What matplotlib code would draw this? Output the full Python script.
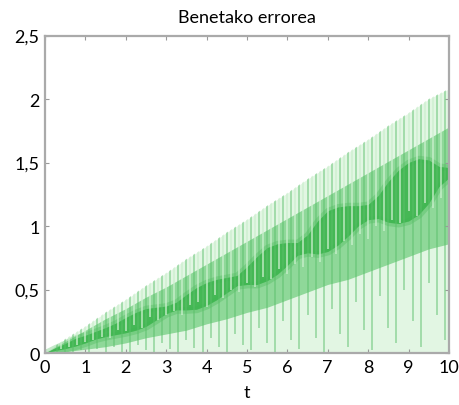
import matplotlib.pyplot as plt
import numpy as np

plt.rcParams['font.family'] = ['Lato', 'DejaVu Sans']

# outer envelope of the error signal
t = [0, 0.5, 1, 1.5, 2, 2.5, 3, 3.5, 4, 4.5, 5, 5.5, 6, 6.5, 7, 7.5, 8, 8.5, 9, 9.5, 10]
upper = [0, 0.11, 0.21, 0.32, 0.42, 0.53, 0.63, 0.74, 0.84, 0.95, 1.05, 1.16,
         1.26, 1.37, 1.47, 1.58, 1.68, 1.79, 1.89, 2.0, 2.08]
med_lo = [0, 0.01, 0.03, 0.05, 0.08, 0.12, 0.15, 0.18, 0.23, 0.27, 0.32, 0.36,
          0.42, 0.48, 0.54, 0.58, 0.64, 0.7, 0.76, 0.82, 0.86]
med_hi = [0, 0.09, 0.18, 0.27, 0.35, 0.44, 0.52, 0.61, 0.7, 0.79, 0.88, 0.97,
          1.06, 1.15, 1.24, 1.33, 1.42, 1.51, 1.6, 1.69, 1.78]

# dense core (beats) of the oscillation
tc = [0, 0.25, 0.5, 0.75, 1, 1.25, 1.5, 1.75, 2, 2.25, 2.5, 2.75, 3, 3.25, 3.5,
      3.75, 4, 4.25, 4.5, 4.75, 5, 5.25, 5.5, 5.75, 6, 6.25, 6.5, 6.75, 7, 7.25,
      7.5, 7.75, 8, 8.25, 8.5, 8.75, 9, 9.25, 9.5, 9.75, 10]
core_lo = [0, 0.02, 0.035, 0.055, 0.08, 0.11, 0.13, 0.145, 0.16, 0.18, 0.21,
           0.26, 0.31, 0.34, 0.34, 0.345, 0.375, 0.42, 0.475, 0.53, 0.54, 0.54,
           0.57, 0.62, 0.69, 0.77, 0.79, 0.78, 0.8, 0.85, 0.92, 1.0, 1.05, 1.06,
           1.03, 1.02, 1.04, 1.09, 1.18, 1.31, 1.38]
core_hi = [0, 0.04, 0.075, 0.115, 0.14, 0.17, 0.2, 0.235, 0.28, 0.32, 0.35,
           0.36, 0.37, 0.4, 0.46, 0.515, 0.555, 0.58, 0.595, 0.61, 0.68, 0.76,
           0.83, 0.86, 0.87, 0.87, 0.93, 1.04, 1.12, 1.15, 1.16, 1.16, 1.17,
           1.24, 1.35, 1.44, 1.5, 1.53, 1.52, 1.47, 1.46]

# individual swings: darker strokes and lighter strokes, with their lowest value
dark_t = [0.3, 0.5, 0.7, 0.9, 1.1, 1.3, 1.5, 1.7, 1.9, 2.1, 2.3, 2.5, 2.7, 2.9,
          3.1, 3.3, 3.5, 3.7, 3.9, 4.1, 4.3, 4.5, 4.7, 4.9, 5.1, 5.3, 5.5, 5.7,
          5.9, 6.1, 6.3, 6.5, 6.7, 6.9, 7.1, 7.3, 7.5, 7.7, 7.9, 8.1, 8.3, 8.5,
          8.7, 8.9, 9.1, 9.3, 9.5, 9.7, 9.9]
dark_lo = [0.0, 0.01, 0.0, 0.02, 0.0, 0.03, 0.0, 0.05, 0.01, 0.0, 0.06, 0.02,
           0.0, 0.08, 0.03, 0.0, 0.1, 0.04, 0.0, 0.12, 0.05, 0.0, 0.15, 0.06,
           0.02, 0.2, 0.08, 0.0, 0.25, 0.1, 0.03, 0.3, 0.12, 0.0, 0.35, 0.15,
           0.05, 0.4, 0.18, 0.02, 0.45, 0.2, 0.08, 0.5, 0.25, 0.05, 0.55, 0.3, 0.1]
light_t = [0.4, 0.6, 0.8, 1.0, 1.2, 1.4, 1.6, 1.8, 2.0, 2.2, 2.4, 2.6, 2.8, 3.0,
           3.2, 3.4, 3.6, 3.8, 4.0, 4.2, 4.4, 4.6, 4.8, 5.0, 5.2, 5.4, 5.6, 5.8,
           6.0, 6.2, 6.4, 6.6, 6.8, 7.0, 7.2, 7.4, 7.6, 7.8, 8.0, 8.2, 8.4, 8.6,
           8.8, 9.0, 9.2, 9.4, 9.6, 9.8]
light_lo = [0.03, 0.05, 0.06, 0.09, 0.1, 0.13, 0.12, 0.18, 0.17, 0.22, 0.2,
            0.28, 0.26, 0.3, 0.33, 0.3, 0.38, 0.4, 0.36, 0.46, 0.43, 0.5, 0.48,
            0.55, 0.52, 0.6, 0.58, 0.66, 0.62, 0.7, 0.68, 0.76, 0.72, 0.82, 0.78,
            0.88, 0.85, 0.94, 0.9, 1.0, 0.96, 1.05, 1.02, 1.12, 1.08, 1.18, 1.14,
            1.22]

ytick_vals = [0, 0.5, 1, 1.5, 2, 2.5]
ytick_labels = ['0', '0,5', '1', '1,5', '2', '2,5']

fig = plt.figure(figsize=(4.59, 4.06), dpi=100)
ax = fig.add_axes([0.098, 0.128, 0.88, 0.782])

env = ax.fill_between(t, 0, upper, color='#e2f6e3', lw=0)
clip = env.get_paths()[0]
ax.fill_between(t, med_lo, med_hi, color='#8fd899', lw=0)

dk = ax.vlines(dark_t, dark_lo, 2.5, color='#5bbf6a', lw=1.1, alpha=0.6)
dk.set_clip_path(clip, ax.transData)
lt = ax.vlines(light_t, light_lo, 2.5, color='#cdf0cf', lw=1.3, alpha=0.75)
lt.set_clip_path(clip, ax.transData)

# soft edge, then solid core
ax.fill_between(tc, core_lo, core_hi, color='#3db54e', lw=5, alpha=0.3)
ax.fill_between(tc, core_lo, core_hi, color='#3db54e', lw=0, alpha=0.85)

ax.set_xlim(0, 10)
ax.set_ylim(0, 2.5)
ax.set_xticks(range(11))
ax.set_yticks(ytick_vals)
ax.set_yticklabels(ytick_labels)
ax.tick_params(direction='in', length=3, color='#999999', labelsize=13,
               top=True, right=True, pad=4)
for s in ax.spines.values():
    s.set_color('#aaaaaa')
    s.set_linewidth(1.6)
ax.set_xlabel('t', fontsize=13, labelpad=7)
ax.set_title('Benetako errorea', fontsize=13, pad=10)

fig.savefig('out.png', dpi=100)
